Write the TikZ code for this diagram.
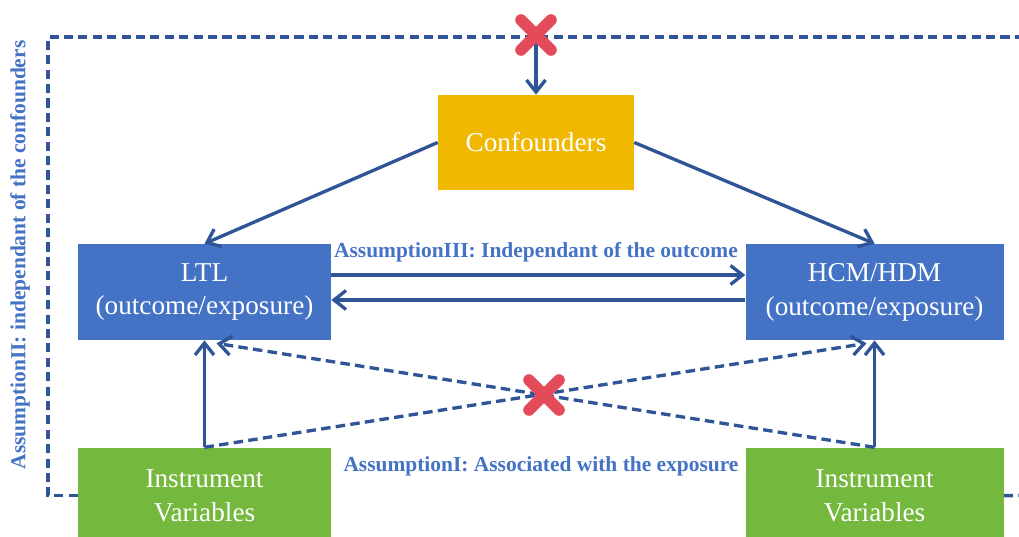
\documentclass[tikz,border=0pt]{standalone}
\usepackage{fontspec}
\setmainfont{Liberation Serif}
\usepackage{xcolor}
\usetikzlibrary{arrows.meta,positioning,calc}
\definecolor{boxblue}{RGB}{68,114,196}
\definecolor{boxgold}{RGB}{240,184,0}
\definecolor{boxgreen}{RGB}{117,184,62}
\definecolor{linkblue}{RGB}{47,85,151}
\definecolor{crossred}{RGB}{228,75,90}
\newcommand{\nocross}[1]{\draw[cross] ($(#1)+(-15,-15)$) -- ($(#1)+(15,15)$) ($(#1)+(-15,15)$) -- ($(#1)+(15,-15)$);}

\begin{document}
\begin{tikzpicture}[
  x=0.02cm, y=-0.02cm,
  box/.style={inner sep=0pt, minimum height=1.92cm, align=center, text=white, font=\fontsize{15.5}{19.3}\selectfont},
  var/.style={box, fill=boxblue, minimum width=5.06cm},
  conf/.style={box, fill=boxgold, minimum width=3.92cm, minimum height=1.9cm},
  inst/.style={box, fill=boxgreen, minimum width=5.06cm},
  arr/.style={-{Straight Barb[length=2.4mm, width=3.8mm]}, line width=1.9pt, draw=linkblue},
  dasharr/.style={arr, dash pattern=on 5.4pt off 3pt},
  frame/.style={line width=2pt, draw=linkblue, dash pattern=on 5.2pt off 3pt},
  cross/.style={line width=6.6pt, draw=crossred, line cap=round},
  lbl/.style={font=\fontsize{12.2}{14}\selectfont\bfseries, text=boxblue, inner sep=0pt},
]
\useasboundingbox (0,0) rectangle (1019,537);
\node[conf] (conf) at (536,142.5) {Confounders};
\node[var] (ltl) at (204.5,292) {LTL\\(outcome/exposure)};
\node[var, right=8.28cm of ltl, minimum width=5.16cm] (hcm) {HCM/HDM\\(outcome/exposure)};
\node[inst, below=2.14cm of ltl] (ivl) {Instrument\\Variables};
\node[inst, below=2.14cm of hcm, minimum width=5.16cm] (ivr) {Instrument\\Variables};
\coordinate (fTL) at (48,37);
\coordinate (fR) at (1040,37);
\coordinate (fBR) at (1040,495);
\coordinate (top) at (536,35);
\coordinate (mid) at (544,395);
% frame for assumption II
\draw[frame] (ivl.west) -| (fTL) -- (fR);
\draw[frame] (ivr.east) -- (fBR);
\draw[arr] (top) -- (conf.north);
\draw[arr] (conf.west) -- (ltl.north);
\draw[arr] (conf.east) -- (hcm.north);
\draw[arr] ($(ltl.east)+(0,-17)$) -- ($(hcm.west)+(0,-17)$);
\draw[arr] ($(hcm.west)+(0,8)$) -- ($(ltl.east)+(0,8)$);
\draw[arr] (ivl.north) -- (ltl.south);
\draw[arr] (ivr.north) -- (hcm.south);
\draw[dasharr] (ivl.north) -- ($(hcm.south)+(-8,3)$);
\draw[dasharr] (ivr.north) -- ($(ltl.south)+(12,3)$);
\nocross{top}
\nocross{mid}
\node[lbl] (a3) at (536,252) {AssumptionIII: Independant of the outcome};
\node[lbl] (a1) at (541,466) {AssumptionI: Associated with the exposure};
\node[lbl, rotate=90] (a2) at (20,255) {AssumptionII: independant of the confounders};
\end{tikzpicture}
\end{document}
